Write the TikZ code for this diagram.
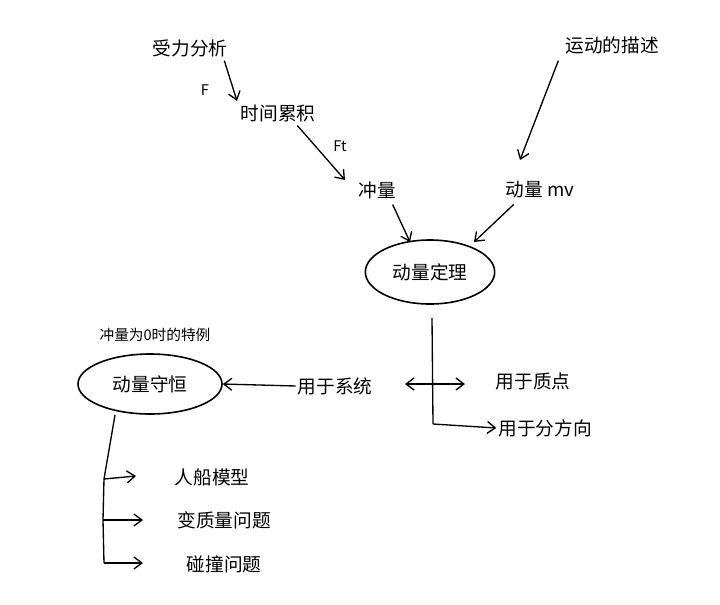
\documentclass[tikz,border=0pt]{standalone}
\usepackage{fontspec}
\setmainfont{Noto Sans CJK SC}
\usetikzlibrary{arrows.meta,shapes.geometric}
\begin{document}
\begin{tikzpicture}[x=0.75pt,y=-0.75pt,
  lbl/.style={font=\fontsize{14}{16}\selectfont, inner sep=1pt},
  small/.style={font=\fontsize{11}{13}\selectfont, inner sep=1pt},
  arr/.style={-{Straight Barb[length=6pt,width=9pt]}, line width=1pt},
  line width=1pt]
\useasboundingbox (0,0) rectangle (720,604);
\node[lbl] (sl) at (190,48) {受力分析};
\node[small] (F) at (205,90) {F};
\node[lbl] (sj) at (278,113) {时间累积};
\node[small] (Ft) at (340,146) {Ft};
\node[lbl] (cl) at (377,190) {冲量};
\node[lbl] (ms) at (612,45) {运动的描述};
\node[lbl] (dl) at (540,190) {动量 mv};
\node[draw, ellipse, line width=1.2pt, minimum width=97pt, minimum height=48pt, lbl] (dd) at (430,272) {动量定理};
\node[small] (ts) at (155,335) {冲量为0时的特例};
\node[draw, ellipse, line width=1.2pt, minimum width=108pt, minimum height=45pt, lbl] (sh) at (150,384) {动量守恒};
\node[lbl] (xt) at (335,386) {用于系统};
\node[lbl] (zd) at (533,381) {用于质点};
\node[lbl] (ff) at (545,428) {用于分方向};
\node[lbl] (rc) at (212,477) {人船模型};
\node[lbl] (bz) at (224,520) {变质量问题};
\node[lbl] (pz) at (224,564) {碰撞问题};
\coordinate (a1) at (237,101);
\draw[arr] (sl.south east) ++(-5,2) -- (a1);
\draw[arr] (sj.south east) ++(-20,2) -- (345,180);
\draw[arr] (ms.south west) ++(-5,5) -- (520,160);
\draw[arr] (cl.south east) ++(-5,4) -- (410,242);
\draw[arr] (dl.south west) ++(10,4) -- (474,242);
\coordinate (v1) at (432,318);
\coordinate (v2) at (433,424);
\coordinate (h1) at (405,384);
\coordinate (h2) at (465,384);
\draw (v1) -- (v2);
\draw[arr] (v2) -- (ff.west);
\draw[{Straight Barb[length=6pt,width=9pt]}-{Straight Barb[length=6pt,width=9pt]}] (h1) -- (h2);
\draw[arr] (xt.west) -- (sh.east);
\coordinate (b0) at (115,415);
\coordinate (b1) at (104,479);
\coordinate (b2) at (103,520);
\coordinate (b3) at (104,563);
\draw (b0) -- (b1) -- (b2) -- (b3);
\draw[arr] (b1) -- (136,476);
\draw[arr] (b2) -- (143,520);
\draw[arr] (b3) -- (143,563);
\end{tikzpicture}
\end{document}
